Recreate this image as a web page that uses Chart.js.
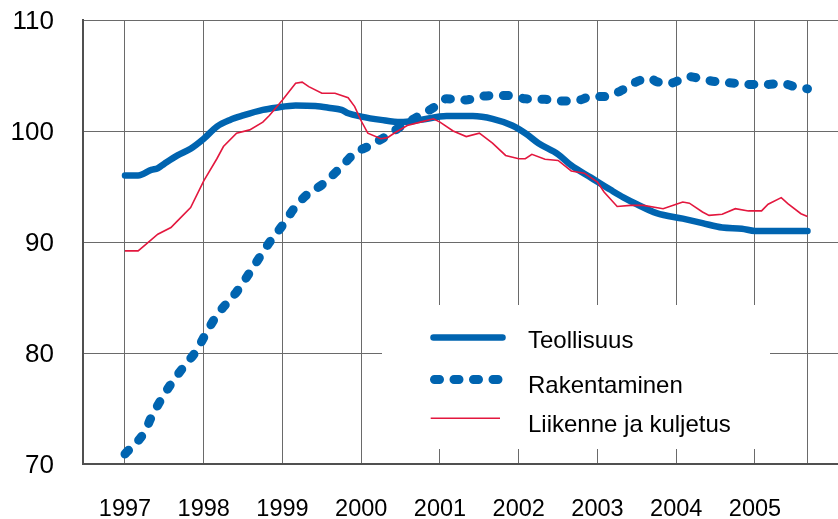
<!DOCTYPE html>
<html lang="fi">
<head>
<meta charset="utf-8">
<title>Teollisuus, rakentaminen, liikenne ja kuljetus</title>
<script src="https://cdn.jsdelivr.net/npm/chart.js@4.4.1/dist/chart.umd.min.js"></script>
<style>
  html, body { margin: 0; padding: 0; background: #fff; }
  canvas { display: block; }
</style>
</head>
<body>
<canvas id="kuvio" width="838" height="519"></canvas>
<script>
// x-akselin vuodet ja y-akselin jaotus
const vuodet = [1997, 1998, 1999, 2000, 2001, 2002, 2003, 2004, 2005];
const yJako = [70, 80, 90, 100, 110];
const nimet = ['Teollisuus', 'Rakentaminen', 'Liikenne ja kuljetus'];

// Teollisuus (kuukausi, arvo)
const teollisuusKk = ['1997-01', '1997-03', '1997-05', '1997-06', '1997-07', '1997-09', '1997-11',
  '1998-01', '1998-03', '1998-05', '1998-07', '1998-10', '1998-12', '1999-03', '1999-06', '1999-08',
  '1999-10', '1999-11', '2000-01', '2000-04', '2000-07', '2000-10', '2001-02', '2001-06', '2001-09',
  '2001-12', '2002-02', '2002-04', '2002-07', '2002-09', '2002-12', '2003-03', '2003-05', '2003-07',
  '2003-10', '2004-02', '2004-05', '2004-08', '2004-11', '2005-01', '2005-09'];
const teollisuus = [96.0, 96.0, 96.5, 96.65, 97.05, 97.8, 98.4,
  99.3, 100.4, 101.0, 101.4, 101.9, 102.1, 102.3, 102.25, 102.1,
  101.9, 101.6, 101.3, 101.0, 100.8, 101.0, 101.35, 101.35, 101.1,
  100.5, 99.8, 98.9, 97.9, 96.9, 95.8, 94.7, 94.0, 93.4,
  92.6, 92.1, 91.7, 91.3, 91.2, 91.0, 91.0];

// Rakentaminen
const rakentaminenKk = ['1997-01', '1997-04', '1997-05', '1997-07', '1997-08', '1997-10', '1997-12',
  '1998-01', '1998-03', '1998-05', '1998-06', '1998-08', '1998-11', '1999-01', '1999-03', '1999-05',
  '1999-07', '1999-10', '1999-12', '2000-02', '2000-05', '2000-07', '2000-09', '2000-12', '2001-02',
  '2001-05', '2001-07', '2001-10', '2001-12', '2002-02', '2002-05', '2002-07', '2002-10', '2002-12',
  '2003-02', '2003-05', '2003-07', '2003-09', '2003-10', '2003-12', '2004-03', '2004-05', '2004-07',
  '2004-10', '2004-12', '2005-03', '2005-05', '2005-07', '2005-09'];
const rakentaminen = [70.9, 72.9, 74.2, 76.3, 77.2, 78.8, 80.3,
  81.4, 83.4, 84.8, 85.5, 87.25, 89.95, 91.5, 93.2, 94.4,
  95.15, 96.8, 98.0, 98.6, 99.6, 100.4, 101.1, 102.1, 102.9,
  102.8, 103.1, 103.2, 103.2, 102.9, 102.85, 102.7, 102.75, 103.1,
  103.1, 103.75, 104.45, 104.75, 104.45, 104.3, 104.9, 104.65, 104.45,
  104.3, 104.2, 104.2, 104.3, 104.0, 103.8];

// Liikenne ja kuljetus
const liikenneKk = ['1997-01', '1997-03', '1997-04', '1997-06', '1997-08', '1997-09', '1997-11',
  '1998-01', '1998-03', '1998-04', '1998-06', '1998-08', '1998-10', '1998-11', '1999-01', '1999-03',
  '1999-04', '1999-05', '1999-07', '1999-09', '1999-11', '1999-12', '2000-01', '2000-02', '2000-04',
  '2000-05', '2000-06', '2000-08', '2000-10', '2000-12', '2001-01', '2001-03', '2001-05', '2001-07',
  '2001-09', '2001-11', '2002-01', '2002-02', '2002-03', '2002-05', '2002-07', '2002-09', '2002-11',
  '2003-01', '2003-02', '2003-04', '2003-06', '2003-08', '2003-11', '2004-01', '2004-02', '2004-03',
  '2004-05', '2004-06', '2004-08', '2004-10', '2004-12', '2005-02', '2005-03', '2005-05', '2005-06',
  '2005-08', '2005-09'];
const liikenne = [89.2, 89.2, 89.7, 90.7, 91.3, 91.9, 93.1,
  95.5, 97.5, 98.6, 99.8, 100.1, 100.8, 101.4, 102.8, 104.3,
  104.4, 104.0, 103.4, 103.4, 103.0, 102.2, 100.9, 99.8, 99.3,
  99.4, 99.8, 100.5, 100.8, 101.1, 100.8, 100.0, 99.5, 99.8,
  98.9, 97.8, 97.5, 97.5, 97.9, 97.45, 97.35, 96.4, 96.2,
  95.4, 94.5, 93.2, 93.3, 93.3, 93.0, 93.4, 93.6, 93.5,
  92.7, 92.4, 92.5, 93.0, 92.8, 92.8, 93.4, 94.0, 93.45,
  92.55, 92.3];

// 'YYYY-MM' -> desimaalivuosi
function kk(s) {
  const [v, m] = s.split('-').map(Number);
  return v + (m - 1) / 12;
}
function pisteet(kuukaudet, arvot) {
  return kuukaudet.map((s, i) => ({ x: kk(s), y: arvot[i] }));
}

const sininen = '#0064b0';
const punainen = '#e3173e';
const fontti = "'Liberation Sans', Arial, sans-serif";
const loppu = kk(teollisuusKk[teollisuusKk.length - 1]);

// Selite valkoisen laatikon päällä kuvaajan sisällä
const selite = {
  id: 'selite',
  beforeDatasetsDraw(chart) {
    const { ctx, chartArea: a } = chart;
    const ds = chart.data.datasets;
    ctx.save();
    ctx.fillStyle = '#fff';
    ctx.fillRect(a.left + 299, a.top + 285, 388, 144);

    const rivit = [
      { y: a.top + 317.5, x1: a.left + 350.5, x2: a.left + 419.5, teksti: a.top + 327.7 },
      { y: a.top + 359.5, x1: a.left + 351.5, x2: a.left + 420, teksti: a.top + 372.7 },
      { y: a.top + 398.3, x1: a.left + 347.7, x2: a.left + 417, teksti: a.top + 411.7 }
    ];
    rivit.forEach((r, i) => {
      const d = ds[i];
      ctx.beginPath();
      ctx.strokeStyle = d.borderColor;
      ctx.lineWidth = d.borderWidth;
      ctx.lineCap = d.borderCapStyle || 'butt';
      ctx.setLineDash(d.borderDash || []);
      ctx.moveTo(r.x1, r.y);
      ctx.lineTo(r.x2, r.y);
      ctx.stroke();
      ctx.setLineDash([]);
      ctx.fillStyle = '#000';
      ctx.font = '24px ' + fontti;
      ctx.textBaseline = 'alphabetic';
      ctx.textAlign = 'left';
      ctx.fillText(d.label, a.left + 445, r.teksti);
    });
    ctx.restore();
  }
};

new Chart(document.getElementById('kuvio'), {
  type: 'line',
  data: {
    datasets: [
      {
        label: nimet[0],
        data: pisteet(teollisuusKk, teollisuus),
        borderColor: sininen,
        borderWidth: 6.5,
        borderCapStyle: 'round',
        borderJoinStyle: 'round',
        cubicInterpolationMode: 'monotone',
        pointRadius: 0,
        order: 2
      },
      {
        label: nimet[1],
        data: pisteet(rakentaminenKk, rakentaminen),
        borderColor: sininen,
        borderWidth: 9,
        borderDash: [5, 14.5],
        borderCapStyle: 'round',
        borderJoinStyle: 'round',
        cubicInterpolationMode: 'monotone',
        pointRadius: 0,
        order: 1
      },
      {
        label: nimet[2],
        data: pisteet(liikenneKk, liikenne),
        borderColor: punainen,
        borderWidth: 1.6,
        tension: 0,
        pointRadius: 0,
        order: 0
      }
    ]
  },
  options: {
    responsive: false,
    animation: false,
    devicePixelRatio: 1,
    layout: { padding: { top: 20, right: 0, bottom: 0, left: 0 } },
    plugins: {
      legend: { display: false },
      tooltip: { enabled: false }
    },
    scales: {
      x: {
        type: 'linear',
        min: 1996.4667,
        max: 2006.054,
        afterBuildTicks: s => {
          s.ticks = vuodet.map(v => ({ value: v })).concat({ value: loppu });
        },
        afterFit: s => { s.height = 55; },
        ticks: {
          autoSkip: false,
          maxRotation: 0,
          padding: 0,
          color: '#000',
          font: { family: fontti, size: 23.5 },
          callback: v => (vuodet.includes(v) ? String(v) : '')
        },
        grid: { color: '#6a6a6a', lineWidth: 1, tickLength: 31, tickColor: 'rgba(0,0,0,0)' },
        border: { color: '#505050', width: 2 }
      },
      y: {
        min: yJako[0],
        max: yJako[yJako.length - 1],
        afterBuildTicks: s => {
          s.ticks = yJako.map(v => ({ value: v }));
        },
        afterFit: s => { s.width = 83; },
        ticks: {
          padding: 0,
          labelOffset: 2,
          color: '#000',
          font: { family: fontti, size: 26 }
        },
        grid: { color: '#6a6a6a', lineWidth: 1, tickLength: 29, tickColor: 'rgba(0,0,0,0)' },
        border: { color: '#505050', width: 2 }
      }
    }
  },
  plugins: [selite]
});
</script>
</body>
</html>
